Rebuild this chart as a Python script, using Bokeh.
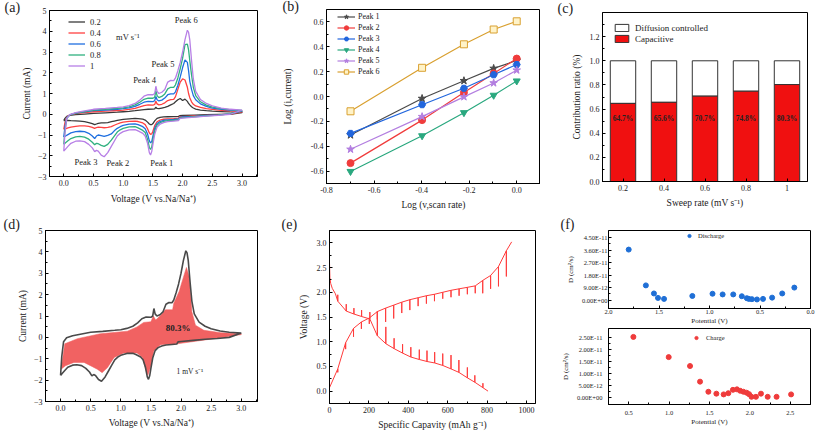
from bokeh.plotting import figure
from bokeh.layouts import column, row
from bokeh.models import (SingleIntervalTicker, FixedTicker, CustomJSTickFormatter, PrintfTickFormatter,
                          ColumnDataSource, Range1d, FactorRange)
from bokeh.embed import file_html
from bokeh.resources import INLINE
from bokeh.core.properties import value

FONT = "Liberation Serif"

# ---------------- (a) CV curves at different scan rates ----------------
cv_rates = ["0.2", "0.4", "0.6", "0.8", "1"]
cv_colors = ["#3a3a3a", "#ff4040", "#1f6fe0", "#2fb07f", "#b77fe6"]

cv_v_anodic = [0.0, 0.02, 0.05, 0.1, 0.2, 0.35, 0.5, 0.7, 0.9, 1.0, 1.1, 1.2, 1.28, 1.35, 1.42,
               1.5, 1.53, 1.55, 1.57, 1.6, 1.65, 1.7, 1.75, 1.8, 1.85, 1.88, 1.92, 1.96, 2.0, 2.04,
               2.08, 2.1, 2.12, 2.15, 2.18, 2.22, 2.3, 2.4, 2.5, 2.65, 2.8, 3.0]
cv_i_anodic_02 = [-0.3, -0.2, -0.1, -0.05, -0.02, 0.01, 0.04, 0.07, 0.1, 0.12, 0.14, 0.17, 0.2, 0.22,
                  0.24, 0.25, 0.26, 0.34, 0.28, 0.27, 0.3, 0.33, 0.38, 0.45, 0.52, 0.6, 0.7, 0.76,
                  0.66, 0.73, 0.62, 0.52, 0.45, 0.36, 0.3, 0.25, 0.2, 0.17, 0.15, 0.13, 0.11, 0.09]
cv_i_anodic_04 = [-0.73, -0.4, -0.15, -0.03, 0.03, 0.08, 0.12, 0.15, 0.18, 0.2, 0.23, 0.28, 0.35, 0.42,
                  0.45, 0.44, 0.47, 0.63, 0.5, 0.45, 0.48, 0.55, 0.66, 0.7, 0.72, 0.85, 1.2, 1.55,
                  1.71, 1.65, 1.3, 1.0, 0.8, 0.6, 0.48, 0.4, 0.33, 0.27, 0.23, 0.19, 0.16, 0.13]
cv_i_anodic_06 = [-1.1, -0.6, -0.18, -0.03, 0.05, 0.11, 0.17, 0.2, 0.24, 0.27, 0.31, 0.38, 0.48, 0.58,
                  0.62, 0.61, 0.65, 0.86, 0.7, 0.64, 0.68, 0.78, 0.94, 0.98, 0.98, 1.08, 1.4, 1.8,
                  2.25, 2.62, 2.5, 2.1, 1.6, 1.2, 0.9, 0.7, 0.5, 0.38, 0.3, 0.24, 0.2, 0.16]
cv_i_anodic_08 = [-1.45, -0.8, -0.2, -0.03, 0.06, 0.13, 0.2, 0.24, 0.28, 0.31, 0.36, 0.45, 0.58, 0.72,
                  0.78, 0.77, 0.82, 1.14, 0.9, 0.8, 0.86, 0.98, 1.22, 1.3, 1.3, 1.42, 1.75, 2.2,
                  2.7, 3.35, 3.38, 3.1, 2.6, 1.9, 1.3, 0.9, 0.6, 0.44, 0.34, 0.27, 0.22, 0.18]
cv_i_anodic_10 = [-1.78, -0.9, -0.2, -0.02, 0.08, 0.16, 0.24, 0.28, 0.33, 0.36, 0.42, 0.52, 0.68, 0.87,
                  0.95, 0.94, 1.0, 1.35, 1.1, 1.0, 1.06, 1.19, 1.55, 1.63, 1.62, 1.75, 2.1, 2.5,
                  3.0, 3.6, 4.05, 3.95, 3.6, 2.6, 1.7, 1.1, 0.71, 0.52, 0.4, 0.3, 0.24, 0.2]

cv_v_cathodic = [3.0, 2.8, 2.6, 2.4, 2.2, 2.0, 1.95, 1.93, 1.85, 1.75, 1.68, 1.62, 1.57, 1.53, 1.5,
                 1.48, 1.46, 1.44, 1.41, 1.37, 1.33, 1.25, 1.2, 1.1, 1.0, 0.95, 0.9, 0.85, 0.8, 0.74,
                 0.68, 0.63, 0.58, 0.55, 0.52, 0.48, 0.42, 0.35, 0.27, 0.2, 0.12, 0.07, 0.03, 0.0]
cv_i_cathodic_02 = [0.08, 0.0, -0.01, -0.02, -0.04, -0.06, -0.07, -0.1, -0.11, -0.12, -0.13, -0.15,
                    -0.2, -0.32, -0.45, -0.5, -0.5, -0.47, -0.38, -0.28, -0.24, -0.21, -0.2, -0.22,
                    -0.25, -0.27, -0.3, -0.33, -0.36, -0.4, -0.42, -0.42, -0.44, -0.47, -0.5, -0.45,
                    -0.4, -0.36, -0.33, -0.32, -0.31, -0.3, -0.3, -0.3]
cv_i_cathodic_04 = [0.12, 0.01, -0.02, -0.05, -0.08, -0.11, -0.12, -0.19, -0.21, -0.22, -0.24, -0.28,
                    -0.36, -0.55, -0.82, -0.95, -0.97, -0.9, -0.7, -0.5, -0.42, -0.35, -0.33, -0.34,
                    -0.38, -0.42, -0.47, -0.53, -0.6, -0.63, -0.65, -0.63, -0.62, -0.64, -0.68, -0.63,
                    -0.58, -0.56, -0.56, -0.58, -0.62, -0.66, -0.7, -0.73]
cv_i_cathodic_06 = [0.15, 0.02, -0.03, -0.06, -0.1, -0.13, -0.15, -0.23, -0.25, -0.27, -0.29, -0.35,
                    -0.45, -0.68, -1.05, -1.32, -1.38, -1.28, -0.95, -0.7, -0.6, -0.5, -0.46, -0.48,
                    -0.54, -0.6, -0.68, -0.8, -0.95, -1.02, -1.07, -1.03, -1.0, -1.05, -1.17, -1.05,
                    -0.92, -0.84, -0.82, -0.84, -0.9, -0.98, -1.05, -1.1]
cv_i_cathodic_08 = [0.18, 0.02, -0.04, -0.08, -0.12, -0.16, -0.18, -0.27, -0.29, -0.31, -0.34, -0.41,
                    -0.52, -0.8, -1.22, -1.58, -1.7, -1.6, -1.2, -0.88, -0.78, -0.66, -0.6, -0.61,
                    -0.68, -0.75, -0.86, -1.05, -1.25, -1.45, -1.55, -1.5, -1.42, -1.4, -1.47, -1.35,
                    -1.2, -1.1, -1.07, -1.09, -1.17, -1.28, -1.37, -1.45]
cv_i_cathodic_10 = [0.2, 0.0, -0.05, -0.09, -0.14, -0.19, -0.21, -0.31, -0.33, -0.36, -0.4, -0.48,
                    -0.62, -0.97, -1.45, -1.8, -1.96, -1.85, -1.4, -1.05, -0.92, -0.8, -0.74, -0.75,
                    -0.84, -0.92, -1.05, -1.3, -1.55, -1.85, -2.05, -1.97, -1.78, -1.74, -1.8, -1.62,
                    -1.45, -1.32, -1.28, -1.3, -1.4, -1.55, -1.68, -1.78]

cv_anodic = [cv_i_anodic_02, cv_i_anodic_04, cv_i_anodic_06, cv_i_anodic_08, cv_i_anodic_10]
cv_cathodic = [cv_i_cathodic_02, cv_i_cathodic_04, cv_i_cathodic_06, cv_i_cathodic_08, cv_i_cathodic_10]

peak_labels = ["Peak 6", "Peak 5", "Peak 4", "Peak 3", "Peak 2", "Peak 1"]
peak_label_v = [2.06, 1.67, 1.36, 0.375, 0.91, 1.65]
peak_label_i = [4.56, 2.43, 1.64, -2.28, -2.37, -2.33]

# ---------------- (b) log(i) vs log(v) ----------------
log_v = [-0.699, -0.398, -0.222, -0.097, 0.0]
b_names = ["Peak 1", "Peak 2", "Peak 3", "Peak 4", "Peak 5", "Peak 6"]
peak1_logi = [-0.31, -0.016, 0.127, 0.226, 0.29]
peak2_logi = [-0.536, -0.19, 0.032, 0.186, 0.305]
peak3_logi = [-0.297, -0.066, 0.066, 0.175, 0.257]
peak4_logi = [-0.603, -0.316, -0.13, 0.01, 0.125]
peak5_logi = [-0.425, -0.162, -0.003, 0.109, 0.212]
peak6_logi = [-0.119, 0.231, 0.42, 0.539, 0.605]
b_series = [peak1_logi, peak2_logi, peak3_logi, peak4_logi, peak5_logi, peak6_logi]
b_colors = ["#4a4a4a", "#f03c3c", "#2266dd", "#2aa87f", "#b37fe0", "#d9a030"]
b_markers = ["star", "circle", "hex", "inverted_triangle", "star", "square"]

# ---------------- (c) contribution ratio ----------------
sweep_rates = ["0.2", "0.4", "0.6", "0.8", "1"]
capacitive = [0.647, 0.656, 0.707, 0.748, 0.803]

# ---------------- (d) capacitive region at 1 mV/s ----------------
capreg_upper_v = [0.01, 0.07, 0.28, 0.66, 1.11, 1.27, 1.38, 1.5, 1.54, 1.58, 1.66, 1.74, 1.86, 1.88,
                  1.97, 2.02, 2.09, 2.14, 2.18, 2.24, 2.38, 2.66, 3.0]
capreg_upper_i = [-1.49, -0.3, -0.06, 0.17, 0.29, 0.49, 0.7, 0.73, 1.0, 0.81, 1.02, 1.29, 1.29, 1.6,
                  2.16, 2.63, 3.27, 2.8, 1.2, 0.57, 0.33, 0.22, 0.17]
capreg_lower_v = [3.0, 2.55, 1.94, 1.66, 1.55, 1.5, 1.45, 1.41, 1.36, 1.27, 1.05, 0.89, 0.78, 0.69,
                  0.61, 0.53, 0.39, 0.22, 0.08, 0.01]
capreg_lower_i = [0.13, -0.06, -0.3, -0.35, -0.62, -1.33, -1.78, -1.49, -0.94, -0.73, -0.73, -0.94,
                  -1.41, -1.65, -1.49, -1.37, -1.17, -1.17, -1.33, -1.49]

# ---------------- (e) GITT ----------------
chg_start_cap, chg_start_v = [0], [0.07]
chg_cap = [42, 82, 122, 162, 202, 243, 285, 326, 367, 408, 450, 492, 533, 575, 617, 658, 700, 740,
           778, 818, 858, 898]
chg_ccv = [0.45, 0.98, 1.27, 1.40, 1.48, 1.61, 1.68, 1.74, 1.80, 1.85, 1.89, 1.93, 1.96, 2.00, 2.04,
           2.07, 2.10, 2.13, 2.24, 2.34, 2.52, 2.84]
chg_relax = [0.38, 0.85, 1.10, 1.26, 1.36, 1.45, 1.40, 1.47, 1.58, 1.64, 1.72, 1.77, 1.82, 1.87, 1.90,
             1.93, 1.96, 1.98, 1.98, 2.07, 2.12, 2.32]
chg_end_cap, chg_end_v = [925], [3.02]

dis_start_cap = [0, 0, 2, 6, 14, 30]
dis_start_v = [3.02, 2.6, 2.3, 2.18, 2.08, 1.97]
dis_cap = [42, 85, 124, 163, 205, 243, 286, 328, 371, 413, 456, 495, 534, 575, 617, 657, 700, 738, 779]
dis_ccv = [1.82, 1.62, 1.56, 1.51, 1.46, 1.12, 0.96, 0.86, 0.77, 0.69, 0.64, 0.60, 0.57, 0.52, 0.45,
           0.38, 0.27, 0.18, 0.07]
dis_relax = [1.95, 1.76, 1.68, 1.64, 1.60, 1.61, 1.30, 1.07, 0.95, 0.89, 0.84, 0.82, 0.79, 0.76, 0.73,
             0.63, 0.48, 0.32, 0.16]
dis_end_cap, dis_end_v = [805], [0.0]

# ---------------- (f) diffusion coefficients ----------------
dis_pot = [1.80, 1.63, 1.55, 1.51, 1.45, 1.17, 0.97, 0.87, 0.765, 0.68, 0.63, 0.61, 0.58, 0.53,
           0.47, 0.38, 0.28, 0.16]
dis_D = [3.63e-11, 1.06e-11, 4.8e-12, 1.6e-12, 9e-13, 3.0e-12, 4.6e-12, 4.1e-12, 4.1e-12, 2.8e-12,
         1.4e-12, 9e-13, 7e-13, 5e-13, 9e-13, 1.8e-12, 4.8e-12, 9.0e-12]
chg_pot = [0.558, 0.995, 1.259, 1.383, 1.486, 1.585, 1.675, 1.733, 1.79, 1.84, 1.88, 1.92, 1.96,
           1.99, 2.02, 2.075, 2.137, 2.22, 2.33, 2.51]
chg_D = [2.53e-11, 1.69e-11, 1.32e-11, 6.7e-12, 2.5e-12, 1.7e-12, 1.4e-12, 1.9e-12, 3.3e-12, 3.5e-12,
         2.9e-12, 2.5e-12, 2.1e-12, 1.5e-12, 4e-13, 4e-13, 1.7e-12, 4e-13, 4e-13, 1.4e-12]
f1_ticks = [0.0, 9e-12, 1.8e-11, 2.7e-11, 3.6e-11, 4.5e-11]
f2_ticks = [0.0, 5e-12, 1.0e-11, 1.5e-11, 2.0e-11, 2.5e-11]

ONE_DEC = "%.1f"


# ---------------- helpers ----------------
def make_fig(w, h, left, right, top, bottom, x_range, y_range):
    p = figure(width=w, height=h, x_range=x_range, y_range=y_range,
               output_backend="svg", toolbar_location=None,
               min_border_left=left, min_border_right=right,
               min_border_top=top, min_border_bottom=bottom)
    try:
        p.frame_align = False
    except Exception:
        pass
    p.xgrid.visible = False
    p.ygrid.visible = False
    p.outline_line_color = "black"
    p.outline_line_alpha = 1
    p.outline_line_width = 1
    p.background_fill_color = "white"
    p.border_fill_color = "white"
    return p


def style(p, xstand, ystand, tick_fs="8px", lab_fs="9.5px", lstand=3):
    for ax in list(p.xaxis) + list(p.yaxis):
        ax.major_tick_in = 3
        ax.major_tick_out = 0
        ax.minor_tick_in = 2
        ax.minor_tick_out = 0
        ax.major_tick_line_color = "black"
        ax.minor_tick_line_color = "black"
        ax.axis_line_color = "black"
        ax.major_label_text_font = FONT
        ax.major_label_text_font_size = tick_fs
        ax.major_label_text_color = "#222222"
        ax.axis_label_text_font = FONT
        ax.axis_label_text_font_size = lab_fs
        ax.axis_label_text_font_style = "normal"
        ax.axis_label_text_color = "#222222"
        ax.major_label_standoff = lstand
    for ax in p.xaxis:
        ax.axis_label_standoff = xstand
    for ax in p.yaxis:
        ax.axis_label_standoff = ystand


def legend_style(lg, x, y, fs, gw, gh, standoff=5, lh=None):
    lg.location = (x, y)
    lg.label_text_font = FONT
    lg.label_text_font_size = fs
    lg.label_text_color = "#222222"
    lg.label_text_line_height = 1.0
    lg.glyph_width = gw
    lg.glyph_height = gh
    lg.label_height = lh if lh is not None else gh
    lg.spacing = 0
    lg.padding = 0
    lg.margin = 0
    lg.label_standoff = standoff
    lg.border_line_alpha = 0
    lg.background_fill_alpha = 0


def panel_label(p, text, offset, top_border):
    t = p.title
    t.text = text
    t.align = "left"
    t.vertical_align = "bottom"
    t.offset = offset
    t.standoff = top_border - 18
    t.text_font = FONT
    t.text_font_size = "14px"
    t.text_font_style = "normal"
    t.text_line_height = 1.0
    t.text_color = "#222222"


# ---------------- (a) ----------------
pa = make_fig(270, 215, 49, 13, 10, 39, Range1d(-0.24, 3.26), Range1d(-3, 5))
for name, col, an, ca in zip(cv_rates, cv_colors, cv_anodic, cv_cathodic):
    pa.line(cv_v_anodic + cv_v_cathodic, an + ca, line_color=col, line_width=1.3, legend_label=name)
pa.text(x=peak_label_v, y=peak_label_i, text=peak_labels, text_font=value(FONT),
        text_font_size="8.5px", text_color="#222222", text_align="center", text_baseline="middle")
pa.text(x=[0.88], y=[3.71], text=["mV s\u207b\u00b9"], text_font=value(FONT), text_font_size="8.5px",
        text_color="#222222", text_align="left", text_baseline="middle")
pa.xaxis.ticker = SingleIntervalTicker(interval=0.5, num_minor_ticks=2)
pa.yaxis.ticker = SingleIntervalTicker(interval=1, num_minor_ticks=2)
pa.xaxis.formatter = PrintfTickFormatter(format=ONE_DEC)
pa.xaxis.axis_label = "Voltage (V vs.Na/Na\u207a)"
pa.yaxis.axis_label = "Current (mA)"
style(pa, 5, 3)
legend_style(pa.legend[0], 19, 105, "8.5px", 17, 11)
panel_label(pa, "(a)", -45, 10)

# ---------------- (b) ----------------
pb = make_fig(270, 215, 56, 0, 9, 32, Range1d(-0.8, 0.1), Range1d(-0.7, 0.7))
for name, ys, col, mk in zip(b_names, b_series, b_colors, b_markers):
    pb.line(log_v, ys, line_color=col, line_width=1.2, legend_label=name)
    fill = "#fff3c8" if mk == "square" else col
    pb.scatter(log_v, ys, marker=mk, size=7 if mk != "star" else 8, fill_color=fill,
               line_color=col, line_width=1, legend_label=name)
pb.xaxis.ticker = SingleIntervalTicker(interval=0.2, num_minor_ticks=2)
pb.yaxis.ticker = SingleIntervalTicker(interval=0.2, num_minor_ticks=2)
pb.xaxis.formatter = PrintfTickFormatter(format=ONE_DEC)
pb.yaxis.formatter = PrintfTickFormatter(format=ONE_DEC)
pb.xaxis.axis_label = "Log (v,scan rate)"
pb.yaxis.axis_label = "Log (i,current)"
style(pb, 4, 15)
legend_style(pb.legend[0], 11, 106, "8px", 18, 11, 3)
panel_label(pb, "(b)", -44, 9)

# ---------------- (c) ----------------
src_c = ColumnDataSource(dict(rate=sweep_rates, cap=capacitive, one=[1.0] * len(capacitive),
                              lab=["%.1f%%" % (c * 100) for c in capacitive],
                              laby=[0.52] * len(capacitive)))
pc = make_fig(277, 215, 62, 10, 12, 34, FactorRange(factors=sweep_rates), Range1d(0, 1.4))
pc.vbar(x="rate", bottom="cap", top="one", width=0.62, source=src_c, fill_color="white",
        line_color="#333333", line_width=1, legend_label="Diffusion controlled")
pc.vbar(x="rate", bottom=0, top="cap", width=0.62, source=src_c, fill_color="#f01010",
        line_color="#333333", line_width=1, legend_label="Capacitive")
pc.text(x="rate", y="laby", text="lab", source=src_c, text_font=value(FONT), text_font_size="7.5px",
        text_font_style="bold", text_color="#222222", text_align="center", text_baseline="middle")
pc.yaxis.ticker = SingleIntervalTicker(interval=0.2, num_minor_ticks=2)
pc.yaxis.formatter = PrintfTickFormatter(format=ONE_DEC)
pc.xaxis.axis_label = "Sweep rate (mV s\u207b\u00b9)"
pc.yaxis.axis_label = "Contribution ratio (%)"
style(pc, 4, 5)
legend_style(pc.legend[0], 11, 137, "9px", 17, 9, 5, lh=11)
panel_label(pc, "(c)", -45, 12)

# ---------------- (d) ----------------
pd_ = make_fig(270, 220, 45, 13, 15, 34, Range1d(-0.25, 3.27), Range1d(-3, 5))
pd_.patch(capreg_upper_v + capreg_lower_v, capreg_upper_i + capreg_lower_i,
          fill_color="#f05a5a", fill_alpha=0.95, line_color="#f05a5a", line_width=0.5)
pd_.line(cv_v_anodic + cv_v_cathodic, cv_i_anodic_10 + cv_i_cathodic_10, line_color="#4a4a4a",
         line_width=1.6)
pd_.text(x=[1.95], y=[0.45], text=["80.3%"], text_font=value(FONT), text_font_size="9px",
         text_font_style="bold", text_color="#222222", text_align="center", text_baseline="middle")
pd_.text(x=[2.15], y=[-1.6], text=["1 mV s\u207b\u00b9"], text_font=value(FONT), text_font_size="7.5px",
         text_color="#222222", text_align="center", text_baseline="middle")
pd_.xaxis.ticker = SingleIntervalTicker(interval=0.5, num_minor_ticks=2)
pd_.yaxis.ticker = SingleIntervalTicker(interval=1, num_minor_ticks=2)
pd_.xaxis.formatter = PrintfTickFormatter(format=ONE_DEC)
pd_.xaxis.axis_label = "Voltage (V vs.Na/Na\u207a)"
pd_.yaxis.axis_label = "Current (mA)"
style(pd_, 4, 3)
panel_label(pd_, "(d)", -42, 15)


# ---------------- (e) ----------------
def gitt_path(sx, sy, caps, ccv, relax, ex, ey):
    xs, ys = list(sx), list(sy)
    for c, a, b in zip(caps, ccv, relax):
        xs += [c, c, c]
        ys += [a, b, a]
    return xs + list(ex), ys + list(ey)


pe = make_fig(270, 220, 59, 5, 15, 32, Range1d(0, 1046), Range1d(-0.25, 3.25))
cx, cy = gitt_path(chg_start_cap, chg_start_v, chg_cap, chg_ccv, chg_relax, chg_end_cap, chg_end_v)
dx, dy = gitt_path(dis_start_cap, dis_start_v, dis_cap, dis_ccv, dis_relax, dis_end_cap, dis_end_v)
pe.line(cx, cy, line_color="#ff3b3b", line_width=1)
pe.line(dx, dy, line_color="#ff3b3b", line_width=1)
pe.xaxis.ticker = SingleIntervalTicker(interval=200, num_minor_ticks=2)
pe.yaxis.ticker = SingleIntervalTicker(interval=0.5, num_minor_ticks=2)
pe.yaxis.formatter = PrintfTickFormatter(format=ONE_DEC)
pe.xaxis.axis_label = "Specific Capavity (mAh g\u207b\u00b9)"
pe.yaxis.axis_label = "Voltage (V)"
style(pe, 4, 5)
panel_label(pe, "(e)", -48, 15)

# ---------------- (f) ----------------
sci = CustomJSTickFormatter(code="""
var s = tick.toExponential(2).toUpperCase(); var p = s.split('E'); var e = parseInt(p[1]);
var a = Math.abs(e); return p[0] + 'E' + (e < 0 ? '-' : '+') + (a < 10 ? '0' : '') + a;
""")

pf1 = make_fig(277, 112, 68, 7, 15, 16, Range1d(2.0, 0.0), Range1d(-0.6e-11, 5.0e-11))
pf1.scatter(dis_pot, dis_D, size=5, fill_color="#1f6fd6", line_color="#1f6fd6", legend_label="Discharge")
pf1.xaxis.ticker = SingleIntervalTicker(interval=0.5, num_minor_ticks=2)
pf1.xaxis.formatter = PrintfTickFormatter(format=ONE_DEC)
pf1.yaxis.ticker = FixedTicker(ticks=f1_ticks,
                               minor_ticks=[(f1_ticks[i] + f1_ticks[i + 1]) / 2 for i in range(5)])
pf1.yaxis.formatter = sci
pf1.xaxis.axis_label = "Potential (V)"
pf1.yaxis.axis_label = "D (cm\u00b2/s)"
style(pf1, 0, 4, tick_fs="6.5px", lab_fs="7px", lstand=1)
legend_style(pf1.legend[0], 77, 68, "6.5px", 8, 9, 5)
panel_label(pf1, "(f)", -48, 15)

pf2 = make_fig(277, 108, 68, 7, 1, 31, Range1d(0.25, 2.75), Range1d(-0.28e-11, 2.88e-11))
pf2.scatter(chg_pot, chg_D, size=5, fill_color="#ef3b3b", line_color="#ef3b3b", legend_label="Charge")
pf2.xaxis.ticker = SingleIntervalTicker(interval=0.5, num_minor_ticks=2)
pf2.xaxis.formatter = PrintfTickFormatter(format=ONE_DEC)
pf2.yaxis.ticker = FixedTicker(ticks=f2_ticks,
                               minor_ticks=[(f2_ticks[i] + f2_ticks[i + 1]) / 2 for i in range(5)])
pf2.yaxis.formatter = sci
pf2.xaxis.axis_label = "Potential (V)"
pf2.yaxis.axis_label = "D (cm\u00b2/s)"
style(pf2, 0, 4, tick_fs="6.5px", lab_fs="7px", lstand=6)
legend_style(pf2.legend[0], 84, 62, "6.5px", 8, 9, 6)

layout = column(row(pa, pb, pc), row(pd_, pe, column(pf1, pf2)))
open("out.html", "w").write(file_html(layout, INLINE))
